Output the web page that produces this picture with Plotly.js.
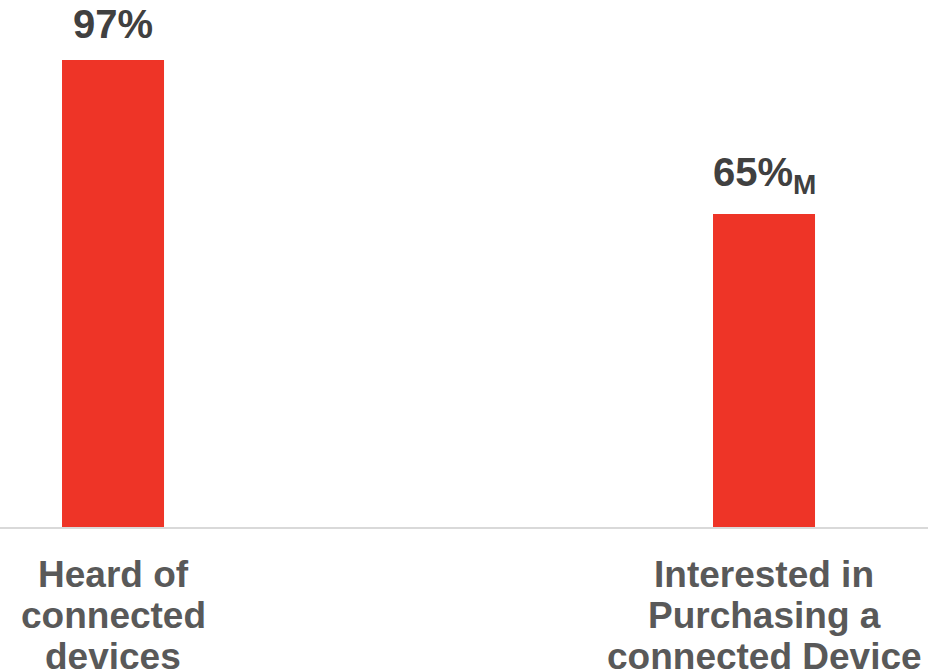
<!DOCTYPE html>
<html>
<head>
<meta charset="utf-8">
<script src="https://cdn.plot.ly/plotly-3.0.1.min.js"></script>
<style>html,body{margin:0;padding:0;background:#fff;}#chart{width:935px;height:672px;}</style>
</head>
<body>
<div id="chart"></div>
<script>
const categories = ["Heard of connected devices", "Interested in Purchasing a connected Device"];
const categoryLines = [["Heard of", "connected", "devices"], ["Interested in", "Purchasing a", "connected Device"]];
const values = [97, 65];
const valueLabels = ["97%", "65%<sub>M</sub>"];

const FONT = '"Liberation Sans", Arial, Helvetica, sans-serif';
const annotations = [];
categories.forEach((c, i) => {
  annotations.push({
    x: c, y: values[i], xref: 'x', yref: 'y',
    text: '<b>' + valueLabels[i] + '</b>',
    showarrow: false, yanchor: 'bottom', yshift: 12,
    font: {family: FONT, size: 40, color: '#404040'}
  });
  categoryLines[i].forEach((line, j) => {
    annotations.push({
      x: c, y: 0, xref: 'x', yref: 'paper',
      text: '<b>' + line + '</b>',
      showarrow: false, yanchor: 'middle', yshift: -(47 + j * 41),
      font: {family: FONT, size: 37, color: '#595959'}
    });
  });
});

const trace = {
  type: 'bar', x: categories, y: values,
  marker: {color: '#EE3427'}, width: 0.1567,
  hoverinfo: 'none'
};

const layout = {
  width: 935, height: 672,
  margin: {l: 0, r: 7, t: 0, b: 145},
  paper_bgcolor: '#fff', plot_bgcolor: '#fff',
  showlegend: false,
  xaxis: {
    type: 'category', range: [-0.1736, 1.2519],
    showticklabels: false, ticks: '', showgrid: false, zeroline: false,
    showline: true, linecolor: '#D9D9D9', linewidth: 2
  },
  yaxis: {
    range: [0, 109.46], visible: false, showgrid: false, zeroline: false
  },
  annotations: annotations
};

Plotly.newPlot('chart', [trace], layout, {displayModeBar: false, staticPlot: true});
</script>
</body>
</html>
